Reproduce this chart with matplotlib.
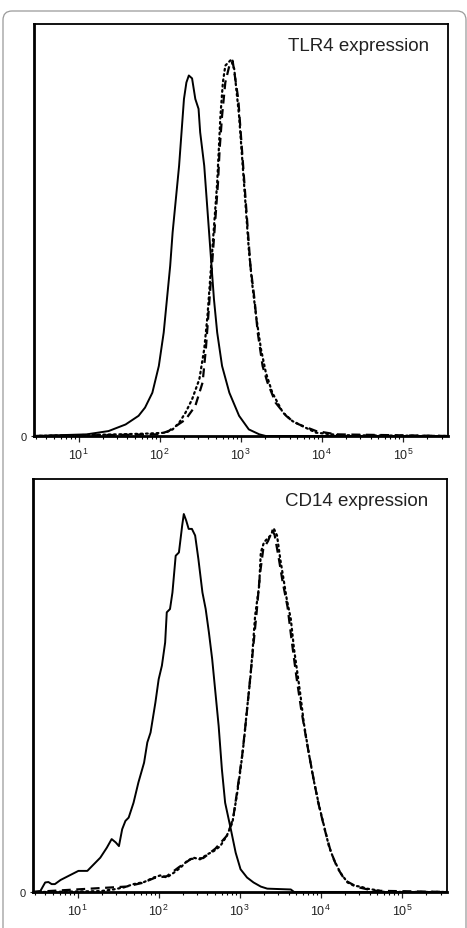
"""Flow cytometry histograms: TLR4 and CD14 expression"""

import matplotlib
matplotlib.use('Agg')
import matplotlib.pyplot as plt
from matplotlib.patches import FancyBboxPatch
from matplotlib.ticker import LogLocator, NullFormatter, FixedLocator
import numpy as np

plt.rcParams['font.family'] = ['Liberation Sans', 'DejaVu Sans']
plt.rcParams['mathtext.fontset'] = 'custom'
plt.rcParams['mathtext.rm'] = 'Liberation Sans'

# Fluorescence intensity as log10 decades, counts as % of axis height.
# Top panel: TLR4
tlr4_solid_log = [0.45, 1.10, 1.37, 1.58, 1.74, 1.82, 1.91, 1.99, 2.05, 2.09,
                  2.13, 2.16, 2.20, 2.24, 2.27, 2.30, 2.33, 2.36, 2.40, 2.44,
                  2.48, 2.50, 2.55, 2.58, 2.61, 2.64, 2.67, 2.71, 2.77, 2.86,
                  2.98, 3.10, 3.23, 3.31, 5.56]
tlr4_solid_cnt = [0, 0.4, 1.2, 2.8, 4.9, 6.9, 10.5, 17.0, 25.1, 33.2,
                  41.3, 49.4, 57.5, 65.6, 73.7, 81.8, 85.8, 87.5, 86.8, 81.8,
                  79.4, 73.7, 65.6, 57.5, 49.4, 41.3, 33.2, 25.1, 17.0, 10.5,
                  4.9, 1.6, 0.4, 0, 0]

tlr4_dot_log = [0.45, 1.50, 1.87, 2.07, 2.16, 2.24, 2.32, 2.40, 2.49, 2.55,
                2.59, 2.62, 2.65, 2.68, 2.71, 2.73, 2.75, 2.78, 2.81, 2.88,
                2.92, 2.95, 2.98, 3.01, 3.04, 3.07, 3.10, 3.14, 3.19, 3.25,
                3.31, 3.39, 3.52, 3.64, 3.76, 3.93, 4.13, 4.22, 5.56]
tlr4_dot_cnt = [0, 0.4, 0.6, 0.8, 1.6, 3.2, 5.7, 8.9, 13.8, 21.1,
                29.1, 37.2, 45.3, 53.4, 61.5, 69.6, 77.7, 85.8, 89.9, 91.3,
                89.1, 83.4, 77.7, 69.6, 61.5, 53.4, 45.3, 37.2, 29.1, 21.1,
                15.4, 10.5, 5.7, 3.6, 2.4, 0.8, 0.4, 0.2, 0]

tlr4_dash_log = [0.45, 1.99, 2.11, 2.32, 2.44, 2.53, 2.57, 2.60, 2.63, 2.66,
                 2.69, 2.72, 2.74, 2.77, 2.81, 2.86, 2.90, 2.94, 2.97, 3.00,
                 3.03, 3.06, 3.09, 3.12, 3.17, 3.21, 3.27, 3.33, 3.43, 3.56,
                 3.64, 3.72, 3.93, 4.18, 5.56]
tlr4_dash_cnt = [0, 0.4, 1.2, 4.0, 7.3, 13.0, 21.1, 29.1, 37.2, 45.3,
                 53.4, 61.5, 69.6, 77.7, 85.8, 89.9, 91.1, 85.8, 81.8, 73.7,
                 65.6, 57.5, 49.4, 41.3, 33.2, 25.1, 17.0, 13.0, 8.1, 4.9,
                 3.6, 2.8, 1.2, 0.4, 0]

# Bottom panel: CD14
cd14_solid_log = [0.45, 0.54, 0.60, 0.64, 0.68, 0.72, 0.79, 0.87, 0.95, 1.01,
                  1.12, 1.20, 1.28, 1.36, 1.42, 1.47, 1.51, 1.55, 1.59, 1.63,
                  1.69, 1.75, 1.82, 1.86, 1.90, 1.96, 2.00, 2.04, 2.08, 2.10,
                  2.14, 2.17, 2.21, 2.25, 2.29, 2.31, 2.34, 2.37, 2.41, 2.45,
                  2.49, 2.54, 2.58, 2.62, 2.66, 2.70, 2.74, 2.78, 2.82, 2.89,
                  2.95, 3.01, 3.09, 3.17, 3.26, 3.34, 3.63, 3.67, 5.56]
cd14_solid_cnt = [0, 0.2, 2.3, 2.4, 1.9, 1.9, 2.9, 3.7, 4.5, 5.1,
                  5.1, 6.7, 8.3, 10.7, 12.8, 12.0, 11.1, 15.2, 17.2, 18.0,
                  21.6, 26.5, 31.3, 36.2, 38.6, 45.9, 51.5, 54.8, 60.4, 67.7,
                  68.5, 72.5, 81.4, 82.2, 88.7, 91.5, 89.9, 87.9, 87.9, 86.3,
                  80.6, 72.5, 68.5, 62.8, 56.4, 48.3, 40.2, 29.7, 21.6, 15.2,
                  9.5, 5.5, 3.5, 2.3, 1.3, 0.8, 0.6, 0, 0]

cd14_dot_log = [0.45, 0.62, 1.28, 1.44, 1.57, 1.69, 1.82, 1.94, 2.02, 2.10,
                2.19, 2.27, 2.35, 2.43, 2.51, 2.60, 2.68, 2.76, 2.84, 2.91,
                2.97, 3.01, 3.05, 3.09, 3.13, 3.16, 3.19, 3.24, 3.26, 3.30,
                3.34, 3.38, 3.42, 3.46, 3.50, 3.54, 3.58, 3.63, 3.67, 3.71,
                3.75, 3.79, 3.85, 3.91, 3.98, 4.04, 4.10, 4.16, 4.24, 4.33,
                4.41, 4.49, 4.57, 4.70, 4.78, 5.56]
cd14_dot_cnt = [0, 0, 0.2, 0.6, 1.1, 1.9, 2.4, 3.5, 4.0, 3.5,
                4.7, 5.9, 7.5, 8.3, 7.9, 9.1, 9.9, 11.1, 13.6, 16.8,
                24.1, 29.7, 36.2, 44.3, 51.5, 58.8, 66.9, 74.2, 82.2, 84.7,
                85.5, 86.3, 88.0, 86.3, 80.6, 75.8, 70.9, 66.1, 58.8, 53.2,
                47.5, 41.0, 33.8, 27.3, 20.8, 16.0, 11.1, 7.9, 4.7, 2.3,
                1.5, 1.3, 0.8, 0.4, 0, 0]

cd14_dash_log = [0.45, 1.60, 1.80, 1.95, 2.10, 2.25, 2.40, 2.55, 2.70, 2.85,
                 2.92, 2.98, 3.03, 3.08, 3.12, 3.17, 3.21, 3.25, 3.29, 3.35,
                 3.40, 3.43, 3.48, 3.53, 3.59, 3.64, 3.70, 3.76, 3.83, 3.90,
                 3.97, 4.05, 4.12, 4.20, 4.30, 4.45, 4.65, 5.56]
cd14_dash_cnt = [0, 1.3, 2.2, 3.4, 3.8, 6.0, 8.0, 8.2, 10.5, 13.8,
                 18.0, 26.0, 33.0, 42.0, 50.0, 60.0, 68.0, 77.0, 83.0, 85.0,
                 87.5, 86.5, 81.0, 75.0, 69.0, 61.0, 52.0, 44.0, 36.0, 28.5,
                 21.5, 15.0, 10.0, 6.0, 2.8, 1.2, 0.3, 0]

decade_ticks = [1e1, 1e2, 1e3, 1e4, 1e5]
decade_labels = ['$10^{1}$', '$10^{2}$', '$10^{3}$', '$10^{4}$', '$10^{5}$']

panels = [
    ('TLR4 expression', [0.0728, 0.5296, 0.887, 0.4435],
     (tlr4_solid_log, tlr4_solid_cnt), (tlr4_dot_log, tlr4_dot_cnt),
     (tlr4_dash_log, tlr4_dash_cnt)),
    ('CD14 expression', [0.0707, 0.0388, 0.887, 0.4446],
     (cd14_solid_log, cd14_solid_cnt), (cd14_dot_log, cd14_dot_cnt),
     (cd14_dash_log, cd14_dash_cnt)),
]

fig = plt.figure(figsize=(4.67, 9.29), dpi=100)

# Rounded frame around the whole figure
frame = FancyBboxPatch((0.03, -0.4), 4.63, 9.57,
                       boxstyle='round,pad=0,rounding_size=0.09',
                       transform=fig.dpi_scale_trans, fill=False,
                       edgecolor='#9a9a9a', linewidth=0.9)
fig.patches.append(frame)

for title, rect, solid, dot, dash in panels:
    ax = fig.add_axes(rect)
    ax.set_xscale('log')
    ax.plot(10 ** np.array(solid[0]), solid[1], color='black',
            linewidth=1.4, linestyle='-')
    ax.plot(10 ** np.array(dash[0]), dash[1], color='black',
            linewidth=1.6, linestyle=(0, (4, 2.5)))
    ax.plot(10 ** np.array(dot[0]), dot[1], color='black',
            linewidth=1.6, linestyle=(0, (0.8, 1.6)), dash_capstyle='round')

    ax.set_xlim(10 ** 0.45, 10 ** 5.56)
    ax.set_ylim(0, 100)

    for side in ['top', 'right']:
        ax.spines[side].set_linewidth(1.3)
    for side in ['left', 'bottom']:
        ax.spines[side].set_linewidth(2.0)

    ax.xaxis.set_major_locator(FixedLocator(decade_ticks))
    ax.set_xticklabels(decade_labels)
    ax.xaxis.set_minor_locator(LogLocator(base=10, subs=np.arange(2, 10),
                                          numticks=20))
    ax.xaxis.set_minor_formatter(NullFormatter())
    ax.tick_params(axis='x', which='major', direction='out', length=4,
                   width=0.9, labelsize=9, pad=4, colors='#222222')
    ax.tick_params(axis='x', which='minor', direction='out', length=2.5,
                   width=0.8)
    ax.set_yticks([0])
    ax.set_yticklabels(['0'])
    ax.tick_params(axis='y', direction='out', length=2.5, width=0.8,
                   labelsize=8, pad=3, colors='#222222')

    ax.text(0.955, 0.947, title, transform=ax.transAxes, ha='right',
            va='center', fontsize=13.5, color='#222222')

fig.savefig('out.png', dpi=100)
